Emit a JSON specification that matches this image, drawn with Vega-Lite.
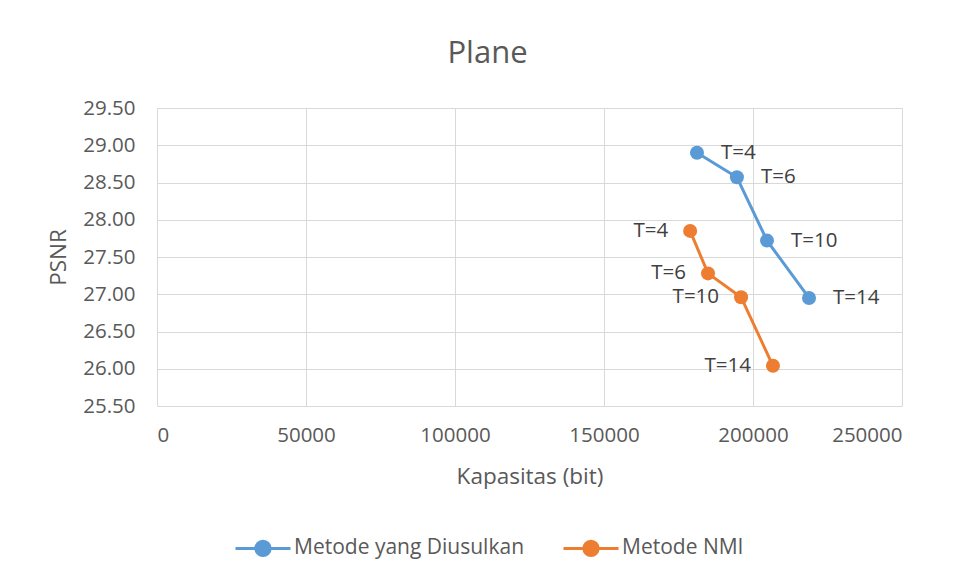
{
  "$schema": "https://vega.github.io/schema/vega-lite/v6.json",
  "width": 745,
  "height": 298,
  "autosize": {"type": "none"},
  "padding": {"left": 157, "top": 108, "right": 51, "bottom": 169},
  "background": "white",
  "title": {
    "text": "Plane",
    "font": "Open Sans",
    "fontSize": 31,
    "fontWeight": "normal",
    "color": "#595959",
    "anchor": "middle",
    "dx": -42,
    "baseline": "alphabetic",
    "offset": 4
  },
  "data": {
    "values": [
      {"series": "Metode yang Diusulkan", "kapasitas": 181200, "psnr": 28.90, "label": "T=4"},
      {"series": "Metode yang Diusulkan", "kapasitas": 194600, "psnr": 28.57, "label": "T=6"},
      {"series": "Metode yang Diusulkan", "kapasitas": 204700, "psnr": 27.72, "label": "T=10"},
      {"series": "Metode yang Diusulkan", "kapasitas": 218800, "psnr": 26.95, "label": "T=14"},
      {"series": "Metode NMI", "kapasitas": 178900, "psnr": 27.85, "label": "T=4"},
      {"series": "Metode NMI", "kapasitas": 184900, "psnr": 27.28, "label": "T=6"},
      {"series": "Metode NMI", "kapasitas": 196000, "psnr": 26.96, "label": "T=10"},
      {"series": "Metode NMI", "kapasitas": 206700, "psnr": 26.04, "label": "T=14"}
    ]
  },
  "encoding": {
    "x": {
      "field": "kapasitas",
      "type": "quantitative",
      "scale": {"domain": [0, 250000], "nice": false},
      "axis": {
        "title": "Kapasitas (bit)",
        "values": [0, 50000, 100000, 150000, 200000, 250000],
        "format": "d",
        "grid": true,
        "gridColor": "#d9d9d9",
        "gridWidth": 1,
        "domain": false,
        "ticks": false,
        "labelPadding": 19,
        "labelFont": "Open Sans",
        "labelFontSize": 20.5,
        "labelColor": "#595959",
        "titleFont": "Open Sans",
        "titleFontSize": 22.5,
        "titleFontWeight": "normal",
        "titleColor": "#595959",
        "titlePadding": 20
      }
    },
    "y": {
      "field": "psnr",
      "type": "quantitative",
      "scale": {"domain": [25.5, 29.5], "nice": false, "zero": false},
      "axis": {
        "title": "PSNR",
        "values": [25.5, 26, 26.5, 27, 27.5, 28, 28.5, 29, 29.5],
        "format": ".2f",
        "grid": true,
        "gridColor": "#d9d9d9",
        "gridWidth": 1,
        "domain": false,
        "ticks": false,
        "labelPadding": 22,
        "labelFont": "Open Sans",
        "labelFontSize": 20.5,
        "labelColor": "#595959",
        "titleFont": "Open Sans",
        "titleFontSize": 22.5,
        "titleFontWeight": "normal",
        "titleColor": "#595959",
        "titlePadding": 12
      }
    }
  },
  "layer": [
    {
      "mark": {"type": "line", "strokeWidth": 3, "point": {"filled": true, "size": 196, "opacity": 1}},
      "encoding": {
        "color": {
          "field": "series",
          "type": "nominal",
          "scale": {"domain": ["Metode yang Diusulkan", "Metode NMI"], "range": ["#5B9BD5", "#ED7D31"]},
          "legend": {
            "title": null,
            "orient": "none",
            "direction": "horizontal",
            "legendX": 77,
            "legendY": 411,
            "symbolType": "M-1,0H1M-0.26,0A0.26,0.26 0 1,1 0.26,0A0.26,0.26 0 1,1 -0.26,0Z",
            "symbolSize": 3025,
            "symbolStrokeWidth": 3,
            "labelFont": "Open Sans",
            "labelFontSize": 21,
            "labelColor": "#595959",
            "labelOffset": 2,
            "labelLimit": 400,
            "columnPadding": 32
          }
        }
      }
    },
    {
      "transform": [{"filter": "datum.series === 'Metode yang Diusulkan'"}],
      "mark": {"type": "text", "align": "left", "baseline": "middle", "dx": 24, "font": "Open Sans", "fontSize": 20.5, "color": "#404040"},
      "encoding": {"text": {"field": "label"}}
    },
    {
      "transform": [{"filter": "datum.series === 'Metode NMI'"}],
      "mark": {"type": "text", "align": "right", "baseline": "middle", "dx": -22, "font": "Open Sans", "fontSize": 20.5, "color": "#404040"},
      "encoding": {"text": {"field": "label"}}
    }
  ],
  "config": {"view": {"stroke": null}}
}
